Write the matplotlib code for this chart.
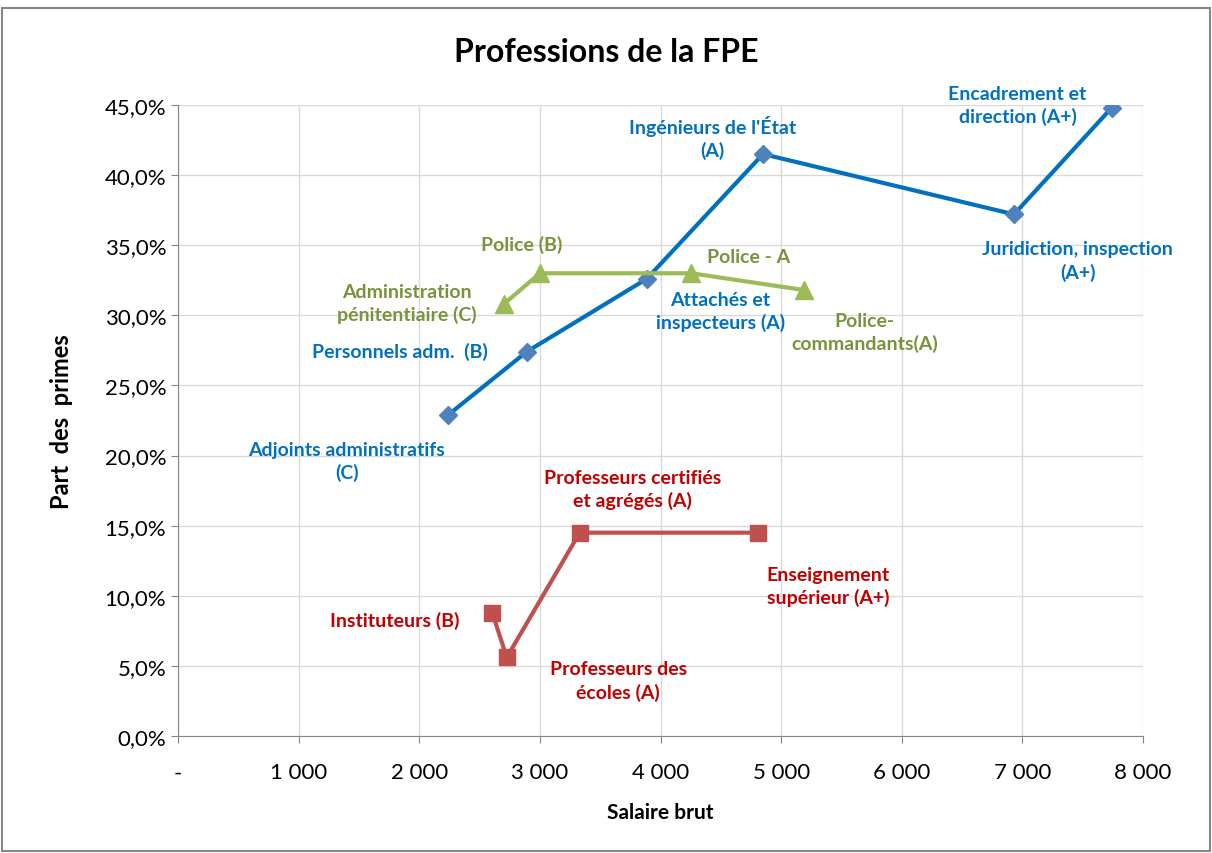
import matplotlib
matplotlib.use("Agg")
import matplotlib.pyplot as plt
from matplotlib.ticker import FuncFormatter
from matplotlib.patches import Rectangle

plt.rcParams['font.family'] = ['Lato', 'DejaVu Sans']

# ---- data ----
adm_x = [2240, 2890, 3885, 4850, 6930, 7740]
adm_y = [0.229, 0.274, 0.326, 0.415, 0.372, 0.448]
adm_labels = ["Adjoints administratifs\n(C)", "Personnels adm.  (B)", "Attachés et\ninspecteurs (A)",
              "Ingénieurs de l'État\n(A)", "Juridiction, inspection\n(A+)", "Encadrement et\ndirection (A+)"]

pol_x = [2700, 3000, 4255, 5190]
pol_y = [0.308, 0.330, 0.330, 0.318]
pol_labels = ["Administration\npénitentiaire (C)", "Police (B)", "Police - A", "Police-\ncommandants(A)"]

ens_x = [2605, 2725, 3330, 4810]
ens_y = [0.088, 0.056, 0.145, 0.145]
ens_labels = ["Instituteurs (B)", "Professeurs des\nécoles (A)", "Professeurs certifiés\net agrégés (A)",
              "Enseignement\nsupérieur (A+)"]

x_ticks = [0, 1000, 2000, 3000, 4000, 5000, 6000, 7000, 8000]
y_ticks = [0.0, 0.05, 0.10, 0.15, 0.20, 0.25, 0.30, 0.35, 0.40, 0.45]

# ---- layout of labels (data coords of text centers) ----
adm_pos = [(1400, 0.196), (1840, 0.2745), (4495, 0.303), (4430, 0.427), (7460, 0.339), (6960, 0.450)]
pol_pos = [(1900, 0.309), (2845, 0.351), (4730, 0.342), (5690, 0.288)]
ens_pos = [(1800, 0.0828), (3650, 0.0395), (3765, 0.176), (5390, 0.107)]

blue_line, blue_mk, blue_txt = '#0070C0', '#4F81BD', '#0070C0'
green_line, green_txt = '#9BBB59', '#77933C'
red_line, red_txt = '#C0504D', '#C00000'

fig = plt.figure(figsize=(12.12, 8.54), dpi=100)
ax = fig.add_axes([0.1469, 0.137, 0.7962, 0.7389])

ax.plot(adm_x, adm_y, color=blue_line, lw=3, marker='D', ms=9, mfc=blue_mk, mec=blue_mk, zorder=3)
ax.plot(pol_x, pol_y, color=green_line, lw=3, marker='^', ms=13, mfc=green_line, mec=green_line, zorder=3)
ax.plot(ens_x, ens_y, color=red_line, lw=3, marker='s', ms=12, mfc=red_line, mec=red_line, zorder=3)

for labels, pos, col in [(adm_labels, adm_pos, blue_txt), (pol_labels, pol_pos, green_txt),
                         (ens_labels, ens_pos, red_txt)]:
    for lab, (px, py) in zip(labels, pos):
        ax.text(px, py, lab, color=col, fontsize=14, fontweight='bold', ha='center', va='center',
                linespacing=1.35, zorder=4)

ax.set_xlim(0, 8000)
ax.set_ylim(0, 0.45)
ax.set_xticks(x_ticks)
ax.set_yticks(y_ticks)
ax.xaxis.set_major_formatter(FuncFormatter(lambda v, p: '-' if v == 0 else f"{int(v):,}".replace(',', ' ')))
ax.yaxis.set_major_formatter(FuncFormatter(lambda v, p: f"{v*100:.1f}%".replace('.', ',')))
ax.tick_params(axis='both', labelsize=16, colors='#000000', length=5, color='#868686')
ax.tick_params(axis='x', pad=14)
ax.grid(True, color='#D9D9D9', lw=1)
ax.set_axisbelow(True)
for s in ['top', 'right']:
    ax.spines[s].set_visible(False)
for s in ['left', 'bottom']:
    ax.spines[s].set_color('#868686')

ax.set_xlabel('Salaire brut', fontsize=15, fontweight='bold', labelpad=14)
ax.set_ylabel('Part  des  primes', fontsize=17, fontweight='bold', labelpad=23)
fig.text(0.5, 0.938, 'Professions de la FPE', ha='center', va='center', fontsize=23, fontweight='bold')

fig.patches.append(Rectangle((0.002, 0.002), 0.996, 0.988, transform=fig.transFigure,
                             fill=False, edgecolor='#868686', lw=1.5))

fig.savefig('out.png', dpi=100)
